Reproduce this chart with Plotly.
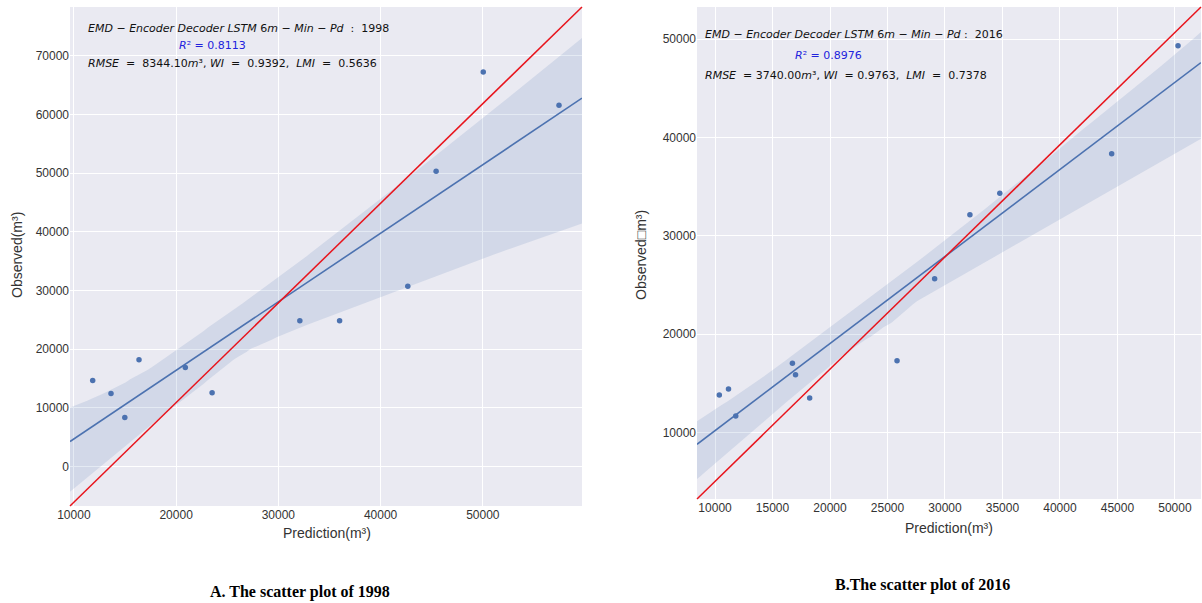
import itertools
import numpy as np
import plotly.graph_objects as go

# ---------------- data ----------------
pred_1998 = [11840, 13630, 14980, 16370, 20900, 23520, 32100, 35990, 42660, 45430, 50040, 57450]
obs_1998 = [14680, 12460, 8360, 18210, 16900, 12580, 24860, 24860, 30720, 50340, 67235, 61550]

pred_2016 = [10370, 11170, 11800, 16730, 17000, 18230, 25830, 29100, 32170, 34770, 44500, 50270]
obs_2016 = [13810, 14420, 11680, 17040, 15880, 13510, 17300, 25620, 32130, 34330, 38330, 49320]

xticks_1998 = [10000, 20000, 30000, 40000, 50000]
yticks_1998 = [0, 10000, 20000, 30000, 40000, 50000, 60000, 70000]
xticks_2016 = [10000, 15000, 20000, 25000, 30000, 35000, 40000, 45000, 50000]
yticks_2016 = [10000, 20000, 30000, 40000, 50000]

xrange_1998 = [9620, 59700]
yrange_1998 = [-6700, 78300]
xrange_2016 = [8430, 52270]
yrange_2016 = [3240, 53260]

BLUE = "#4C72B0"
W, H = 1202, 603


def fit_band(x, y, xr, shrink=0.87):
    """OLS fit; 95% band from exhaustive half-sample (delete-n/2 jackknife) refits."""
    x = np.asarray(x, float)
    y = np.asarray(y, float)
    n = len(x)
    b, a = np.polyfit(x, y, 1)
    xs = np.linspace(xr[0], xr[1], 120)
    yh = a + b * xs
    preds = []
    for idx in itertools.combinations(range(n), n // 2):
        idx = list(idx)
        xi = x[idx]
        if np.ptp(xi) == 0:
            continue
        bi, ai = np.polyfit(xi, y[idx], 1)
        preds.append(ai + bi * xs)
    preds = np.array(preds)
    lo = np.percentile(preds, 2.5, axis=0)
    hi = np.percentile(preds, 97.5, axis=0)
    lo = yh - shrink * (yh - lo)
    hi = yh + shrink * (hi - yh)
    return xs, yh, lo, hi


fig = go.Figure()

panels = [
    (pred_1998, obs_1998, xrange_1998, "x", "y"),
    (pred_2016, obs_2016, xrange_2016, "x2", "y2"),
]
for px, py, xr, xa, ya in panels:
    xs, yh, lo, hi = fit_band(px, py, xr)
    fig.add_trace(go.Scatter(x=np.concatenate([xs, xs[::-1]]), y=np.concatenate([hi, lo[::-1]]),
                             fill="toself", fillcolor="rgba(76,114,176,0.15)", line=dict(width=0),
                             mode="lines", hoverinfo="skip", showlegend=False, xaxis=xa, yaxis=ya))
    fig.add_trace(go.Scatter(x=xs, y=yh, mode="lines", line=dict(color=BLUE, width=1.6),
                             showlegend=False, xaxis=xa, yaxis=ya))
    fig.add_trace(go.Scatter(x=px, y=py, mode="markers", marker=dict(color=BLUE, size=5.5),
                             showlegend=False, xaxis=xa, yaxis=ya))

# diagonal red reference lines (axes diagonal)
for xa, ya in [("x", "y"), ("x2", "y2")]:
    fig.add_shape(type="line", xref=f"{xa} domain", yref=f"{ya} domain", x0=0, y0=0, x1=1, y1=1,
                  line=dict(color="#E8141C", width=1.5), layer="above")

tickfont = dict(family="Liberation Sans, Arial", size=12, color="#333333")
axis_common = dict(showgrid=True, gridcolor="white", gridwidth=1, zeroline=False, showline=False,
                   ticks="", tickfont=tickfont, automargin=False, tickformat="d")

L_x = [70 / W, 582 / W]
L_y = [1 - 506 / H, 1 - 7 / H]
R_x = [697 / W, 1201 / W]
R_y = [1 - 499 / H, 1 - 7 / H]

fig.update_layout(
    width=W, height=H, margin=dict(l=0, r=0, t=0, b=0),
    paper_bgcolor="white", plot_bgcolor="#EAEAF2",
    xaxis=dict(domain=L_x, range=xrange_1998, tickvals=xticks_1998, anchor="y", **axis_common),
    yaxis=dict(domain=L_y, range=yrange_1998, tickvals=yticks_1998, anchor="x", **axis_common),
    xaxis2=dict(domain=R_x, range=xrange_2016, tickvals=xticks_2016, anchor="y2", **axis_common),
    yaxis2=dict(domain=R_y, range=yrange_2016, tickvals=yticks_2016, anchor="x2", **axis_common),
    showlegend=False,
)

def px2(xp, yp):
    return xp / W, 1 - yp / H

anns = []
afont = dict(family="DejaVu Sans", size=11, color="#111111")

def add_text(text, xp, yp, xanchor="left", font=None, textangle=0):
    x, y = px2(xp, yp)
    anns.append(dict(text=text, x=x, y=y, xref="paper", yref="paper", xanchor=xanchor, yanchor="middle",
                     showarrow=False, font=font or afont, textangle=textangle))

rfont = dict(family="DejaVu Sans", size=11, color="#2222DD")
# left panel texts
add_text("<i>EMD</i> − <i>Encoder Decoder LSTM</i> 6<i>m</i> − <i>Min</i> − <i>Pd</i>  :  1998", 86, 28)
add_text("<i>R</i>² = 0.8113", 212, 46, xanchor="center", font=rfont)
add_text("<i>RMSE</i>  =  8344.10<i>m</i>³, <i>WI</i>  =  0.9392,  <i>LMI</i>  =  0.5636", 86, 64)
# right panel texts
add_text("<i>EMD</i> − <i>Encoder Decoder LSTM</i> 6<i>m</i> − <i>Min</i> − <i>Pd</i> :  2016", 703, 35)
add_text("<i>R</i>² = 0.8976", 828, 55, xanchor="center", font=rfont)
add_text("<i>RMSE</i>  = 3740.00<i>m</i>³, <i>WI</i>  = 0.9763,  <i>LMI</i>  =  0.7378", 703, 75)

lab = dict(family="Liberation Sans, Arial", size=14, color="#333333")
add_text("Prediction(m³)", 327, 533, xanchor="center", font=lab)
add_text("Prediction(m³)", 949, 528, xanchor="center", font=lab)
add_text("Observed(m³)", 17, 255, xanchor="center", font=lab, textangle=-90)
add_text("Observed\u25a1m³)", 641, 255, xanchor="center", font=lab, textangle=-90)

cap = dict(family="Liberation Serif, Times New Roman", size=16, color="#000000")
add_text("<b>A. The scatter plot of 1998</b>", 300, 592, xanchor="center", font=cap)
add_text("<b>B.The scatter plot of 2016</b>", 922, 585, xanchor="center", font=cap)

fig.update_layout(annotations=anns)
fig.write_html("out.html", config={"displayModeBar": False},
               post_script="document.body.style.margin='0';document.body.style.overflow='hidden';")
